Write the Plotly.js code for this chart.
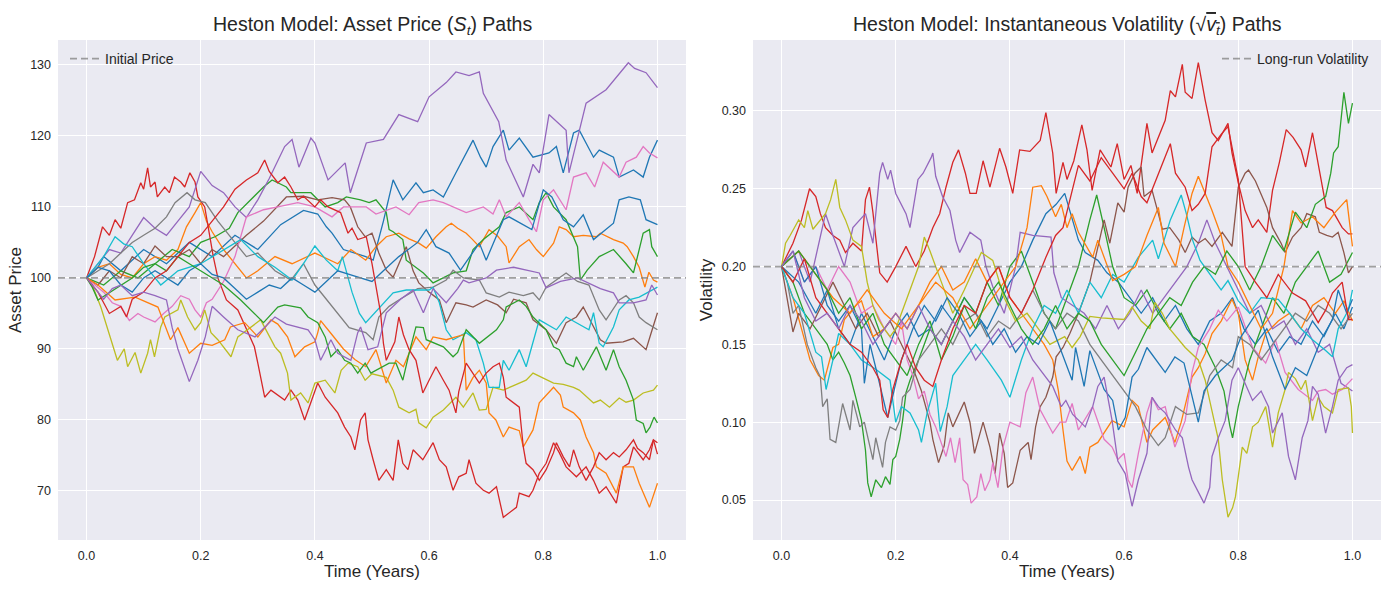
<!DOCTYPE html>
<html>
<head>
<meta charset="utf-8">
<script src="https://cdn.plot.ly/plotly-3.0.1.min.js"></script>
<style>
  html, body { margin: 0; padding: 0; background: #ffffff; }
  #chart { width: 1389px; height: 590px; }
</style>
</head>
<body>
<div id="chart"></div>
<script>
// Heston model Monte Carlo: 15 simulated paths, [time in years, value] pairs.
const INITIAL_PRICE = 100;
const LONG_RUN_VOL = 0.20;
const xTicks = [0, 0.2, 0.4, 0.6, 0.8, 1.0];
const priceTicks = [70, 80, 90, 100, 110, 120, 130];
const volTicks = [0.05, 0.10, 0.15, 0.20, 0.25, 0.30];
const palette = ['#1f77b4','#ff7f0e','#2ca02c','#d62728','#9467bd','#8c564b','#e377c2','#7f7f7f','#bcbd22','#17becf'];

// ---- asset price paths S_t ----
const price0 = [[0,100],[0.02,101.5],[0.03,103],[0.06,101],[0.1,104],[0.14,102],[0.18,105],[0.22,103],[0.26,106],[0.3,104],[0.34,107.5],[0.38,109.5],[0.405,109],[0.42,107.2],[0.43,106.3],[0.45,104],[0.47,103.5],[0.489,103],[0.502,102.5],[0.52,108],[0.537,113.8],[0.545,112.5],[0.554,111],[0.577,113.4],[0.59,112],[0.607,112.4],[0.625,111.4],[0.647,114.8],[0.665,117.6],[0.677,119.4],[0.69,117],[0.7,115.6],[0.712,118.5],[0.73,120.8],[0.74,118],[0.758,119.7],[0.782,117],[0.81,117.6],[0.823,118.5],[0.835,114.8],[0.853,120.4],[0.863,120.8],[0.888,117],[0.898,118],[0.923,117],[0.933,114.2],[0.958,115.2],[0.975,114.2],[0.986,117],[1.0,119.4]];
const price1 = [[0,100],[0.02,101.5],[0.04,102],[0.06,100.5],[0.08,100],[0.1,102],[0.12,103],[0.14,102.5],[0.16,104],[0.175,107.2],[0.19,109.2],[0.2,110.6],[0.21,108],[0.22,106.5],[0.24,104],[0.26,102],[0.28,100],[0.3,101],[0.33,103],[0.36,102],[0.4,103.5],[0.44,102],[0.463,104],[0.489,102.5],[0.507,104.4],[0.525,105.8],[0.547,106.3],[0.565,105.5],[0.582,104.9],[0.595,104.2],[0.612,105.8],[0.63,107.2],[0.639,107.7],[0.65,107],[0.665,106.3],[0.675,105.5],[0.688,104.4],[0.705,106.8],[0.72,105.9],[0.735,104.4],[0.74,102.1],[0.758,104.4],[0.775,105.4],[0.788,104],[0.8,103],[0.818,104.9],[0.828,107.2],[0.84,106.8],[0.853,105.8],[0.87,106],[0.893,105.8],[0.9,106.3],[0.923,105.4],[0.94,104.9],[0.947,104.4],[0.958,103],[0.968,101.5],[0.978,98.7],[0.985,100.8],[0.993,99.7],[1.0,99.4]];
const price2 = [[0,100],[0.03,99],[0.06,101],[0.09,100],[0.12,102],[0.15,104],[0.18,103],[0.2,105],[0.225,105.8],[0.25,107],[0.265,109.2],[0.3,112],[0.31,112.8],[0.325,113.8],[0.35,112.8],[0.358,112],[0.393,112],[0.418,110],[0.44,110.6],[0.455,111.4],[0.48,111],[0.495,110.6],[0.507,111],[0.525,109.2],[0.53,106.8],[0.537,106.5],[0.554,105.4],[0.56,102.5],[0.59,100.7],[0.607,99.3],[0.642,100.7],[0.665,101],[0.677,104],[0.695,105.4],[0.723,107.2],[0.735,109.2],[0.758,110],[0.782,108.2],[0.793,110.6],[0.805,112],[0.818,110],[0.84,108.2],[0.86,104.4],[0.865,99.7],[0.877,101.1],[0.898,103],[0.923,104],[0.945,102],[0.958,100.7],[0.975,106.3],[0.986,106.8],[0.99,104.4],[1.0,103]];
const price3 = [[0,100],[0.014,103],[0.028,107.2],[0.04,106],[0.05,108.2],[0.06,107],[0.072,110.6],[0.084,111],[0.095,113.4],[0.1,112.5],[0.107,115.5],[0.112,112.8],[0.12,113.5],[0.124,111.4],[0.137,112.8],[0.145,112],[0.154,114.2],[0.165,113.5],[0.172,112.8],[0.181,114.8],[0.19,113.5],[0.195,111.4],[0.207,110],[0.215,106],[0.222,103],[0.23,100],[0.245,96.9],[0.265,95.5],[0.28,92.7],[0.294,90.3],[0.3,88],[0.305,86],[0.312,83.2],[0.323,84.2],[0.347,82.8],[0.358,84.2],[0.37,82.8],[0.382,80],[0.393,82.4],[0.405,85.2],[0.418,83.2],[0.44,81],[0.452,79],[0.463,77.6],[0.47,75.8],[0.48,80],[0.488,81],[0.493,77.2],[0.502,74.4],[0.512,71.5],[0.525,73],[0.537,71.5],[0.546,77.2],[0.554,73.9],[0.563,73],[0.572,75.8],[0.589,74.4],[0.607,76.8],[0.618,74.4],[0.63,73.4],[0.642,70.1],[0.652,72],[0.665,72.5],[0.67,74.4],[0.682,71.1],[0.695,70.1],[0.705,69.7],[0.718,70.6],[0.73,66.3],[0.74,66.9],[0.753,67.7],[0.758,69.7],[0.775,69.2],[0.782,70.1],[0.793,72.5],[0.805,73.9],[0.818,76.8],[0.828,75.4],[0.84,73.4],[0.858,72],[0.875,73.4],[0.888,71.5],[0.898,69.7],[0.91,70.6],[0.928,68.3],[0.94,73.4],[0.95,73.9],[0.958,76.2],[0.975,74.4],[0.986,75.8],[0.993,77.2],[1.0,75.2]];
const price4 = [[0,100],[0.02,102],[0.04,104],[0.06,103.5],[0.08,106],[0.1,108.5],[0.12,107],[0.14,106],[0.16,108],[0.18,110],[0.2,115],[0.22,113],[0.24,112],[0.26,110],[0.28,108.5],[0.3,111],[0.32,114],[0.347,118.5],[0.36,119.5],[0.372,115.6],[0.393,119.7],[0.4,119],[0.423,113.8],[0.453,116.2],[0.462,112],[0.49,119],[0.52,119.5],[0.547,123],[0.58,122],[0.6,125.5],[0.63,127.5],[0.647,129],[0.67,128.5],[0.688,129],[0.695,126],[0.722,122],[0.735,116.6],[0.765,111.4],[0.782,116],[0.793,114.8],[0.81,123],[0.84,120.8],[0.845,114.8],[0.875,124.6],[0.91,126.5],[0.94,129.3],[0.949,130.3],[0.96,129.5],[0.98,128.9],[1.0,126.8]];
const price5 = [[0,100],[0.02,99],[0.04,101],[0.06,100],[0.08,103],[0.1,102],[0.12,104.5],[0.14,103],[0.16,103],[0.18,104],[0.2,102],[0.22,104],[0.24,103],[0.26,104.5],[0.28,106],[0.31,108],[0.35,111.4],[0.38,111.5],[0.405,111],[0.43,111.3],[0.452,111],[0.462,110],[0.475,107.2],[0.488,105.8],[0.5,106.3],[0.512,103.5],[0.525,101.1],[0.537,100.1],[0.56,104.4],[0.572,101],[0.582,99.3],[0.6,98],[0.618,96.9],[0.63,93.7],[0.647,96.5],[0.665,96.2],[0.677,95.9],[0.7,96.9],[0.72,96.2],[0.735,95.1],[0.748,97],[0.77,96.5],[0.782,94.1],[0.805,92.7],[0.823,90.8],[0.84,93.7],[0.858,94.5],[0.87,95.9],[0.9,91.3],[0.91,90.8],[0.94,91],[0.958,91.5],[0.98,89.9],[0.988,92],[1.0,95.1]];
const price6 = [[0,100],[0.015,99],[0.03,98],[0.045,96.5],[0.06,96],[0.075,94],[0.09,95],[0.1,94.5],[0.12,93.8],[0.135,95],[0.15,96],[0.165,97.5],[0.18,97],[0.19,95.5],[0.2,94.5],[0.21,96.5],[0.22,97],[0.24,99.5],[0.26,103],[0.28,108.6],[0.31,109.6],[0.335,110],[0.37,110.6],[0.4,110],[0.43,108.6],[0.45,110],[0.49,110],[0.507,109],[0.542,110],[0.565,108.9],[0.582,110.6],[0.607,111],[0.625,110.6],[0.665,109.2],[0.695,110],[0.712,109],[0.723,111],[0.735,108.6],[0.758,110.6],[0.775,108.2],[0.788,106.5],[0.8,111],[0.818,112.4],[0.84,109.6],[0.853,114.2],[0.875,114.8],[0.89,112.8],[0.905,116.3],[0.933,114.2],[0.945,116.3],[0.963,117],[0.975,118.5],[0.986,117.6],[1.0,116.9]];
const price7 = [[0,100],[0.02,101],[0.04,102],[0.06,103.5],[0.08,105],[0.1,106],[0.12,107],[0.14,108.6],[0.155,110.6],[0.176,112],[0.19,111],[0.208,110.6],[0.23,108],[0.25,106],[0.28,103],[0.3,103.5],[0.33,101],[0.358,99.7],[0.38,102],[0.4,99],[0.42,97],[0.44,95],[0.46,93],[0.489,92.3],[0.502,91.3],[0.512,94.5],[0.53,96],[0.547,96.9],[0.58,98.5],[0.607,98.7],[0.63,99.7],[0.642,101.1],[0.66,100],[0.688,99.7],[0.7,97.9],[0.723,97.3],[0.74,98],[0.765,97.5],[0.782,97.9],[0.793,96.9],[0.805,98.7],[0.84,100.7],[0.86,99.5],[0.88,99],[0.898,95.5],[0.91,94.1],[0.933,96.9],[0.945,97.5],[0.958,96.5],[0.968,94.5],[0.98,93.7],[1.0,92.7]];
const price8 = [[0,100],[0.01,99],[0.025,95.9],[0.037,92.7],[0.05,89.4],[0.054,88.4],[0.066,90],[0.072,87.5],[0.085,89.5],[0.095,86.6],[0.107,89.4],[0.112,91.3],[0.119,88.9],[0.13,93.1],[0.137,94.5],[0.16,95.5],[0.165,96.9],[0.177,94.5],[0.19,92.7],[0.2,93.7],[0.207,95.5],[0.218,92.3],[0.23,91.3],[0.253,88.9],[0.265,91.7],[0.288,93.1],[0.305,94.1],[0.33,90.3],[0.34,89.4],[0.352,86.6],[0.358,82.8],[0.375,83.8],[0.388,82.4],[0.4,85.2],[0.418,85.6],[0.435,83.8],[0.446,87],[0.458,88],[0.475,87.5],[0.488,85.6],[0.5,86.5],[0.525,86],[0.537,84.2],[0.547,81.8],[0.565,81],[0.577,81.5],[0.582,79.6],[0.595,78.9],[0.607,80.4],[0.625,81.4],[0.647,83.2],[0.66,81.8],[0.677,83.8],[0.688,81.4],[0.7,81.5],[0.712,84.6],[0.73,84.2],[0.747,84.8],[0.77,85.6],[0.782,86.6],[0.818,85.2],[0.835,85],[0.853,84.6],[0.863,84.2],[0.888,82.4],[0.9,82.8],[0.916,81.8],[0.933,83.1],[0.945,82.5],[0.958,82.8],[0.975,83.8],[0.993,84.2],[1.0,84.9]];
const price9 = [[0,100],[0.015,101.5],[0.03,103],[0.05,105.8],[0.065,104.8],[0.08,104.4],[0.1,102],[0.115,100.5],[0.13,99],[0.145,100],[0.16,101],[0.2,102],[0.23,103.5],[0.27,105.4],[0.3,103],[0.33,101.5],[0.36,99.7],[0.38,102],[0.4,104.5],[0.42,102.5],[0.44,101],[0.448,103],[0.465,98],[0.478,95],[0.489,93.7],[0.51,95.5],[0.537,97.9],[0.56,98.3],[0.6,98.3],[0.607,98.7],[0.618,96.5],[0.63,92.7],[0.642,91.3],[0.665,92.3],[0.682,91.3],[0.695,88],[0.705,84.6],[0.723,84.6],[0.73,88.4],[0.74,87],[0.758,89.9],[0.77,87.5],[0.788,92.7],[0.793,94.1],[0.823,92.7],[0.84,94.5],[0.88,92.7],[0.888,95.1],[0.898,90.8],[0.905,90.3],[0.923,93.1],[0.933,95.5],[0.95,96.9],[0.968,97.3],[1.0,98.7]];
const price10 = [[0,100],[0.02,101.5],[0.04,101],[0.06,99],[0.08,98],[0.1,100],[0.12,101],[0.14,100],[0.16,99],[0.18,101],[0.2,102],[0.22,100.5],[0.24,100],[0.26,98.5],[0.28,97],[0.3,98],[0.32,99],[0.34,98.5],[0.36,100],[0.38,99],[0.4,98],[0.42,99.5],[0.44,101],[0.46,100.5],[0.48,100],[0.5,99.5],[0.52,101],[0.547,103],[0.58,105],[0.595,106.8],[0.612,104.4],[0.635,103.5],[0.655,101.1],[0.688,104.9],[0.7,102.5],[0.73,108.2],[0.74,108.6],[0.78,106.8],[0.8,112.4],[0.815,111.4],[0.835,108.2],[0.853,107.2],[0.87,108.9],[0.888,105.4],[0.923,107.7],[0.933,111],[0.95,111.4],[0.97,111],[0.98,108.2],[1.0,107.5]];
const price11 = [[0,100],[0.02,99],[0.05,96.9],[0.085,97.3],[0.125,95.9],[0.147,91.3],[0.16,93],[0.18,89.4],[0.2,90.8],[0.22,90.5],[0.242,91.3],[0.252,93.1],[0.277,93.7],[0.3,91.7],[0.323,94.1],[0.335,93.5],[0.352,91.7],[0.365,88.9],[0.382,90.3],[0.4,91],[0.405,92.3],[0.41,94],[0.43,92],[0.45,90],[0.47,88.5],[0.489,87.5],[0.507,89.9],[0.525,85.2],[0.542,88.4],[0.555,87.5],[0.577,91.7],[0.595,89.9],[0.607,91.7],[0.63,91.3],[0.647,91.7],[0.66,92],[0.665,84.2],[0.677,86],[0.688,87],[0.7,85.2],[0.705,81],[0.717,80],[0.73,77.6],[0.74,79],[0.758,78.5],[0.765,76.2],[0.782,78.6],[0.793,82.4],[0.818,84.6],[0.83,83.5],[0.835,81.8],[0.853,81],[0.865,80],[0.875,77.6],[0.888,75.4],[0.893,73.4],[0.91,72.5],[0.928,69.7],[0.94,73.4],[0.958,73.4],[0.968,71.1],[0.986,67.7],[1.0,71.1]];
const price12 = [[0,100],[0.01,98.7],[0.02,96.9],[0.05,98.5],[0.08,100],[0.1,101.5],[0.12,102],[0.14,101],[0.16,103],[0.18,102],[0.2,101],[0.22,100],[0.24,99],[0.27,96.9],[0.3,94.5],[0.31,93.7],[0.335,95.9],[0.347,96.2],[0.375,95.8],[0.388,94.5],[0.405,93.7],[0.418,91.7],[0.428,88.9],[0.44,89.9],[0.452,88.4],[0.463,88],[0.475,86.6],[0.488,88],[0.498,86.6],[0.507,87],[0.53,88],[0.542,88],[0.554,85.6],[0.565,89.4],[0.577,93.1],[0.59,93],[0.595,91.3],[0.625,90.3],[0.642,88.9],[0.65,89.5],[0.665,92.7],[0.688,90.8],[0.718,92.7],[0.73,94.1],[0.735,95.9],[0.758,96.9],[0.77,96],[0.782,94.5],[0.793,93.7],[0.805,92.7],[0.818,90.3],[0.828,89.9],[0.84,88],[0.853,87.5],[0.858,88.9],[0.87,87],[0.893,90.3],[0.91,87],[0.923,89.9],[0.933,87.5],[0.945,85.6],[0.958,82.8],[0.963,80],[0.975,79.5],[0.98,78.2],[0.987,79],[0.994,80.4],[1.0,79.6]];
const price13 = [[0,100],[0.02,98],[0.04,95],[0.06,96],[0.07,94.5],[0.08,97],[0.1,98],[0.12,100],[0.14,101],[0.16,103],[0.18,105],[0.2,106],[0.22,108],[0.24,110],[0.26,112.5],[0.28,113.8],[0.3,114.8],[0.312,116.6],[0.32,115],[0.335,113.4],[0.347,114.2],[0.358,112.8],[0.37,111],[0.38,111.5],[0.4,110],[0.41,111],[0.423,110],[0.445,109.2],[0.458,106.3],[0.465,107],[0.475,105.4],[0.49,105.8],[0.5,102],[0.507,98.6],[0.515,95.1],[0.52,90.8],[0.525,88.4],[0.54,91],[0.547,94.5],[0.555,92],[0.565,89.9],[0.577,88.4],[0.589,83.8],[0.6,85.6],[0.612,87.5],[0.625,85.6],[0.635,84.2],[0.647,81],[0.652,84],[0.665,88],[0.677,86.6],[0.688,85.2],[0.7,86.6],[0.712,87.5],[0.723,88],[0.73,86],[0.735,83.2],[0.748,82.4],[0.758,81.8],[0.765,76.2],[0.77,73.9],[0.782,73],[0.793,71.5],[0.805,73],[0.818,75.4],[0.823,76.8],[0.835,74.8],[0.846,73.4],[0.853,75.8],[0.863,73.4],[0.875,71.5],[0.888,73.4],[0.898,75.4],[0.91,74.4],[0.923,75.4],[0.933,74.8],[0.945,75.8],[0.958,77.2],[0.965,76],[0.975,75.4],[0.986,74.4],[0.993,77.2],[1.0,76.8]];
const price14 = [[0,100],[0.015,98.5],[0.03,97],[0.045,98.5],[0.06,99],[0.08,97.5],[0.1,98],[0.12,97.5],[0.14,96.9],[0.15,93],[0.16,90],[0.18,85.4],[0.195,88.4],[0.208,91.7],[0.22,96],[0.24,94.5],[0.265,92.7],[0.295,91.7],[0.312,93.1],[0.33,94.5],[0.35,93.5],[0.37,93.1],[0.388,92.7],[0.4,91.3],[0.41,88.4],[0.428,91.3],[0.44,89.4],[0.463,88.4],[0.475,92.3],[0.48,93.1],[0.493,89.9],[0.51,90.3],[0.525,95.1],[0.55,97],[0.572,98.3],[0.59,95.1],[0.6,97],[0.607,98.5],[0.63,96.5],[0.65,98.5],[0.66,99.7],[0.67,99.3],[0.7,100],[0.718,101.1],[0.748,101.5],[0.793,100.7],[0.805,98.6],[0.83,99.5],[0.86,100],[0.9,98.5],[0.923,97.9],[0.933,96.5],[0.958,96.5],[0.98,96.9],[0.99,99],[1.0,97.6]];

// ---- instantaneous volatility paths sqrt(v_t) ----
const vol0 = [[0,0.2],[0.03,0.19],[0.06,0.17],[0.08,0.185],[0.1,0.16],[0.12,0.15],[0.14,0.17],[0.16,0.155],[0.18,0.14],[0.2,0.16],[0.22,0.17],[0.24,0.155],[0.26,0.16],[0.28,0.175],[0.3,0.165],[0.32,0.18],[0.34,0.17],[0.36,0.16],[0.38,0.175],[0.4,0.19],[0.42,0.2],[0.44,0.217],[0.463,0.234],[0.475,0.238],[0.481,0.24],[0.496,0.247],[0.509,0.23],[0.52,0.217],[0.532,0.209],[0.554,0.204],[0.57,0.196],[0.59,0.19],[0.61,0.18],[0.63,0.17],[0.65,0.18],[0.67,0.165],[0.69,0.175],[0.71,0.16],[0.73,0.15],[0.75,0.165],[0.77,0.17],[0.79,0.18],[0.81,0.16],[0.83,0.15],[0.85,0.16],[0.87,0.145],[0.89,0.155],[0.91,0.15],[0.93,0.165],[0.95,0.155],[0.97,0.17],[0.985,0.16],[1.0,0.174]];
const vol1 = [[0,0.2],[0.02,0.18],[0.035,0.16],[0.05,0.14],[0.065,0.13],[0.075,0.127],[0.09,0.148],[0.1,0.15],[0.11,0.166],[0.13,0.175],[0.14,0.178],[0.16,0.155],[0.18,0.16],[0.2,0.17],[0.22,0.16],[0.24,0.175],[0.26,0.19],[0.28,0.2],[0.3,0.185],[0.32,0.19],[0.34,0.205],[0.36,0.19],[0.38,0.2],[0.4,0.18],[0.42,0.17],[0.44,0.16],[0.46,0.15],[0.475,0.14],[0.485,0.12],[0.493,0.095],[0.5,0.075],[0.509,0.069],[0.523,0.078],[0.532,0.067],[0.54,0.084],[0.554,0.087],[0.579,0.101],[0.6,0.097],[0.614,0.114],[0.625,0.11],[0.64,0.087],[0.65,0.095],[0.672,0.103],[0.689,0.087],[0.7,0.1],[0.719,0.129],[0.73,0.135],[0.742,0.144],[0.754,0.157],[0.77,0.165],[0.789,0.179],[0.8,0.17],[0.812,0.14],[0.825,0.127],[0.835,0.142],[0.848,0.157],[0.87,0.165],[0.89,0.17],[0.91,0.16],[0.93,0.175],[0.95,0.18],[0.97,0.17],[0.985,0.178],[1.0,0.165]];
const vol2 = [[0,0.2],[0.02,0.19],[0.04,0.17],[0.06,0.16],[0.08,0.15],[0.09,0.14],[0.1,0.145],[0.11,0.138],[0.12,0.13],[0.13,0.116],[0.14,0.101],[0.147,0.082],[0.151,0.061],[0.157,0.052],[0.165,0.063],[0.175,0.058],[0.182,0.065],[0.19,0.06],[0.195,0.076],[0.2,0.078],[0.207,0.089],[0.212,0.101],[0.218,0.119],[0.225,0.127],[0.24,0.14],[0.26,0.16],[0.28,0.15],[0.3,0.165],[0.32,0.18],[0.34,0.17],[0.36,0.19],[0.38,0.175],[0.4,0.2],[0.42,0.21],[0.44,0.19],[0.46,0.17],[0.48,0.16],[0.5,0.18],[0.52,0.2],[0.54,0.23],[0.552,0.246],[0.565,0.225],[0.58,0.2],[0.6,0.18],[0.62,0.175],[0.64,0.185],[0.66,0.17],[0.68,0.16],[0.7,0.17],[0.72,0.155],[0.74,0.15],[0.76,0.135],[0.775,0.12],[0.785,0.098],[0.79,0.09],[0.8,0.11],[0.82,0.14],[0.84,0.16],[0.86,0.18],[0.88,0.17],[0.9,0.19],[0.92,0.2],[0.94,0.21],[0.96,0.19],[0.98,0.195],[1.0,0.209]];
const vol3 = [[0,0.2],[0.02,0.215],[0.035,0.23],[0.049,0.25],[0.06,0.245],[0.068,0.234],[0.077,0.225],[0.09,0.22],[0.102,0.217],[0.112,0.209],[0.125,0.215],[0.14,0.21],[0.147,0.243],[0.154,0.251],[0.16,0.235],[0.165,0.217],[0.172,0.196],[0.185,0.19],[0.2,0.2],[0.218,0.213],[0.235,0.2],[0.25,0.21],[0.265,0.225],[0.277,0.234],[0.288,0.251],[0.3,0.267],[0.31,0.275],[0.322,0.26],[0.33,0.247],[0.341,0.247],[0.353,0.268],[0.365,0.251],[0.382,0.276],[0.393,0.264],[0.405,0.247],[0.417,0.275],[0.435,0.274],[0.453,0.281],[0.463,0.299],[0.475,0.273],[0.481,0.247],[0.493,0.267],[0.5,0.256],[0.512,0.268],[0.526,0.291],[0.535,0.275],[0.544,0.249],[0.558,0.275],[0.577,0.264],[0.588,0.279],[0.6,0.256],[0.612,0.265],[0.623,0.247],[0.64,0.292],[0.649,0.273],[0.672,0.294],[0.681,0.313],[0.69,0.309],[0.702,0.33],[0.707,0.312],[0.719,0.308],[0.73,0.331],[0.742,0.307],[0.754,0.286],[0.765,0.281],[0.782,0.292],[0.789,0.273],[0.8,0.254],[0.812,0.236],[0.825,0.225],[0.835,0.23],[0.85,0.222],[0.86,0.249],[0.872,0.267],[0.884,0.288],[0.896,0.283],[0.91,0.275],[0.918,0.264],[0.93,0.286],[0.942,0.262],[0.954,0.238],[0.965,0.236],[0.982,0.225],[0.993,0.221],[1.0,0.221]];
const vol4 = [[0,0.2],[0.03,0.21],[0.05,0.19],[0.077,0.234],[0.09,0.22],[0.11,0.2],[0.125,0.225],[0.147,0.234],[0.16,0.215],[0.172,0.26],[0.177,0.267],[0.186,0.256],[0.191,0.262],[0.2,0.247],[0.218,0.234],[0.225,0.225],[0.239,0.256],[0.248,0.26],[0.262,0.27],[0.265,0.273],[0.27,0.258],[0.282,0.245],[0.295,0.236],[0.305,0.217],[0.312,0.209],[0.33,0.222],[0.349,0.217],[0.358,0.2],[0.37,0.187],[0.39,0.17],[0.41,0.2],[0.418,0.222],[0.44,0.22],[0.472,0.219],[0.477,0.196],[0.49,0.18],[0.51,0.175],[0.53,0.17],[0.55,0.16],[0.57,0.175],[0.59,0.16],[0.61,0.17],[0.63,0.185],[0.65,0.17],[0.67,0.18],[0.69,0.19],[0.71,0.2],[0.73,0.215],[0.745,0.23],[0.76,0.215],[0.78,0.2],[0.8,0.185],[0.82,0.17],[0.84,0.175],[0.86,0.16],[0.88,0.165],[0.9,0.15],[0.92,0.16],[0.94,0.145],[0.96,0.15],[0.98,0.125],[1.0,0.12]];
const vol5 = [[0,0.2],[0.01,0.18],[0.02,0.158],[0.03,0.17],[0.05,0.16],[0.07,0.175],[0.09,0.19],[0.11,0.175],[0.13,0.16],[0.15,0.17],[0.17,0.155],[0.19,0.165],[0.21,0.15],[0.23,0.135],[0.245,0.12],[0.26,0.1],[0.265,0.089],[0.275,0.074],[0.285,0.085],[0.292,0.106],[0.3,0.097],[0.32,0.113],[0.33,0.1],[0.338,0.08],[0.353,0.1],[0.365,0.084],[0.374,0.067],[0.382,0.093],[0.39,0.08],[0.396,0.058],[0.405,0.061],[0.418,0.082],[0.432,0.087],[0.437,0.076],[0.445,0.097],[0.453,0.11],[0.463,0.116],[0.475,0.129],[0.481,0.142],[0.493,0.148],[0.505,0.157],[0.52,0.17],[0.54,0.19],[0.554,0.213],[0.565,0.23],[0.575,0.215],[0.589,0.241],[0.6,0.235],[0.607,0.251],[0.619,0.26],[0.63,0.264],[0.635,0.245],[0.649,0.249],[0.66,0.234],[0.667,0.224],[0.68,0.225],[0.696,0.217],[0.707,0.209],[0.719,0.219],[0.73,0.215],[0.742,0.218],[0.754,0.213],[0.772,0.222],[0.789,0.213],[0.8,0.251],[0.812,0.26],[0.818,0.262],[0.83,0.255],[0.85,0.238],[0.86,0.225],[0.875,0.215],[0.882,0.209],[0.895,0.219],[0.91,0.225],[0.92,0.234],[0.935,0.232],[0.942,0.222],[0.955,0.22],[0.965,0.219],[0.975,0.222],[0.985,0.209],[0.993,0.196],[1.0,0.2]];
const vol6 = [[0,0.2],[0.02,0.21],[0.04,0.19],[0.06,0.2],[0.08,0.185],[0.1,0.2],[0.12,0.19],[0.14,0.17],[0.16,0.175],[0.18,0.16],[0.2,0.15],[0.21,0.165],[0.22,0.14],[0.23,0.13],[0.24,0.115],[0.25,0.12],[0.26,0.105],[0.27,0.097],[0.288,0.078],[0.296,0.09],[0.304,0.074],[0.312,0.09],[0.318,0.063],[0.326,0.06],[0.332,0.048],[0.342,0.052],[0.349,0.067],[0.356,0.056],[0.365,0.063],[0.37,0.074],[0.379,0.058],[0.388,0.084],[0.4,0.1],[0.418,0.097],[0.428,0.119],[0.44,0.129],[0.453,0.108],[0.475,0.093],[0.488,0.1],[0.498,0.1],[0.509,0.112],[0.52,0.095],[0.545,0.11],[0.565,0.089],[0.579,0.084],[0.589,0.076],[0.6,0.08],[0.607,0.063],[0.614,0.058],[0.625,0.08],[0.64,0.106],[0.649,0.116],[0.66,0.108],[0.672,0.11],[0.689,0.084],[0.707,0.101],[0.719,0.132],[0.73,0.148],[0.75,0.16],[0.765,0.172],[0.78,0.165],[0.8,0.174],[0.825,0.148],[0.848,0.138],[0.865,0.153],[0.882,0.132],[0.905,0.121],[0.93,0.114],[0.94,0.12],[0.953,0.121],[0.965,0.118],[0.982,0.121],[1.0,0.128]];
const vol7 = [[0,0.2],[0.01,0.19],[0.02,0.17],[0.03,0.175],[0.045,0.15],[0.06,0.135],[0.068,0.129],[0.072,0.11],[0.08,0.115],[0.085,0.089],[0.095,0.087],[0.107,0.112],[0.12,0.095],[0.125,0.114],[0.137,0.097],[0.145,0.1],[0.16,0.076],[0.165,0.09],[0.177,0.071],[0.182,0.087],[0.19,0.097],[0.2,0.095],[0.207,0.101],[0.212,0.116],[0.225,0.121],[0.24,0.14],[0.26,0.15],[0.28,0.16],[0.3,0.15],[0.32,0.165],[0.34,0.17],[0.36,0.155],[0.38,0.165],[0.4,0.16],[0.42,0.17],[0.44,0.185],[0.46,0.17],[0.48,0.16],[0.5,0.17],[0.52,0.165],[0.54,0.15],[0.56,0.14],[0.58,0.13],[0.6,0.12],[0.62,0.11],[0.64,0.095],[0.66,0.085],[0.672,0.09],[0.69,0.11],[0.71,0.105],[0.73,0.106],[0.75,0.13],[0.77,0.14],[0.79,0.135],[0.8,0.155],[0.82,0.15],[0.84,0.14],[0.86,0.15],[0.88,0.16],[0.9,0.17],[0.92,0.165],[0.94,0.175],[0.96,0.17],[0.98,0.16],[1.0,0.17]];
const vol8 = [[0,0.2],[0.007,0.215],[0.015,0.22],[0.03,0.23],[0.04,0.225],[0.046,0.236],[0.055,0.224],[0.077,0.234],[0.086,0.243],[0.095,0.256],[0.102,0.238],[0.112,0.23],[0.125,0.217],[0.14,0.213],[0.15,0.19],[0.16,0.175],[0.17,0.166],[0.18,0.16],[0.19,0.155],[0.2,0.16],[0.22,0.18],[0.24,0.2],[0.25,0.219],[0.26,0.21],[0.28,0.19],[0.3,0.17],[0.32,0.185],[0.35,0.209],[0.37,0.204],[0.39,0.18],[0.41,0.165],[0.43,0.17],[0.45,0.16],[0.47,0.15],[0.496,0.155],[0.509,0.148],[0.523,0.155],[0.54,0.168],[0.56,0.167],[0.6,0.166],[0.614,0.174],[0.63,0.165],[0.645,0.16],[0.654,0.177],[0.667,0.17],[0.68,0.16],[0.707,0.148],[0.73,0.14],[0.742,0.127],[0.754,0.106],[0.765,0.089],[0.772,0.063],[0.777,0.052],[0.782,0.039],[0.79,0.045],[0.795,0.052],[0.8,0.065],[0.807,0.084],[0.815,0.08],[0.825,0.097],[0.835,0.1],[0.848,0.11],[0.855,0.095],[0.86,0.084],[0.87,0.106],[0.882,0.121],[0.888,0.132],[0.9,0.128],[0.91,0.121],[0.918,0.127],[0.93,0.101],[0.94,0.116],[0.95,0.11],[0.965,0.106],[0.975,0.121],[0.993,0.122],[0.998,0.11],[1.0,0.093]];
const vol9 = [[0,0.2],[0.02,0.18],[0.04,0.17],[0.06,0.145],[0.07,0.142],[0.078,0.121],[0.09,0.14],[0.1,0.157],[0.12,0.15],[0.14,0.14],[0.165,0.134],[0.18,0.13],[0.19,0.127],[0.2,0.1],[0.21,0.11],[0.225,0.106],[0.24,0.095],[0.245,0.087],[0.255,0.106],[0.27,0.125],[0.278,0.094],[0.29,0.11],[0.3,0.13],[0.32,0.14],[0.34,0.15],[0.36,0.14],[0.385,0.127],[0.4,0.116],[0.42,0.14],[0.44,0.16],[0.46,0.175],[0.48,0.17],[0.5,0.185],[0.52,0.17],[0.54,0.19],[0.56,0.18],[0.58,0.195],[0.6,0.19],[0.625,0.206],[0.65,0.217],[0.66,0.205],[0.681,0.23],[0.7,0.246],[0.709,0.234],[0.72,0.217],[0.733,0.204],[0.75,0.195],[0.77,0.185],[0.782,0.191],[0.8,0.178],[0.82,0.17],[0.84,0.18],[0.87,0.179],[0.89,0.17],[0.91,0.16],[0.93,0.153],[0.953,0.146],[0.965,0.142],[0.975,0.16],[0.993,0.172],[1.0,0.185]];
const vol10 = [[0,0.2],[0.02,0.21],[0.04,0.19],[0.06,0.2],[0.08,0.175],[0.1,0.165],[0.12,0.175],[0.14,0.16],[0.145,0.125],[0.155,0.15],[0.165,0.135],[0.175,0.12],[0.186,0.103],[0.2,0.125],[0.21,0.14],[0.23,0.16],[0.25,0.175],[0.27,0.165],[0.29,0.18],[0.31,0.17],[0.33,0.155],[0.35,0.165],[0.37,0.15],[0.39,0.16],[0.41,0.145],[0.43,0.155],[0.45,0.15],[0.47,0.165],[0.496,0.14],[0.509,0.127],[0.515,0.148],[0.53,0.123],[0.54,0.146],[0.565,0.121],[0.58,0.114],[0.59,0.095],[0.602,0.103],[0.614,0.129],[0.625,0.134],[0.64,0.148],[0.672,0.132],[0.689,0.142],[0.705,0.138],[0.73,0.1],[0.74,0.12],[0.76,0.13],[0.789,0.14],[0.805,0.155],[0.835,0.172],[0.86,0.142],[0.882,0.121],[0.9,0.135],[0.92,0.13],[0.945,0.153],[0.965,0.166],[0.975,0.185],[0.99,0.17],[1.0,0.179]];
const vol11 = [[0,0.2],[0.03,0.21],[0.06,0.195],[0.09,0.18],[0.12,0.17],[0.15,0.185],[0.18,0.17],[0.21,0.16],[0.24,0.175],[0.27,0.19],[0.3,0.18],[0.33,0.16],[0.36,0.175],[0.39,0.19],[0.41,0.2],[0.43,0.225],[0.44,0.251],[0.455,0.252],[0.465,0.245],[0.48,0.232],[0.49,0.24],[0.5,0.225],[0.509,0.234],[0.52,0.222],[0.545,0.206],[0.554,0.217],[0.58,0.191],[0.6,0.195],[0.62,0.2],[0.64,0.22],[0.66,0.238],[0.67,0.215],[0.69,0.2],[0.705,0.225],[0.719,0.247],[0.73,0.258],[0.742,0.247],[0.754,0.236],[0.77,0.22],[0.782,0.2],[0.8,0.19],[0.82,0.175],[0.84,0.16],[0.86,0.17],[0.88,0.2],[0.895,0.236],[0.91,0.228],[0.93,0.232],[0.95,0.225],[0.97,0.235],[0.99,0.243],[1.0,0.213]];
const vol12 = [[0,0.2],[0.03,0.21],[0.05,0.2],[0.08,0.185],[0.1,0.17],[0.12,0.18],[0.14,0.16],[0.16,0.17],[0.18,0.15],[0.2,0.14],[0.22,0.13],[0.24,0.15],[0.26,0.165],[0.28,0.14],[0.3,0.155],[0.32,0.175],[0.34,0.16],[0.36,0.18],[0.38,0.19],[0.4,0.175],[0.42,0.16],[0.44,0.15],[0.46,0.16],[0.48,0.175],[0.5,0.16],[0.52,0.17],[0.54,0.165],[0.56,0.15],[0.58,0.14],[0.6,0.13],[0.62,0.145],[0.64,0.16],[0.66,0.17],[0.68,0.18],[0.7,0.175],[0.72,0.19],[0.74,0.2],[0.76,0.195],[0.78,0.21],[0.8,0.2],[0.82,0.185],[0.84,0.2],[0.86,0.22],[0.88,0.21],[0.9,0.235],[0.92,0.225],[0.935,0.24],[0.953,0.245],[0.962,0.26],[0.967,0.273],[0.975,0.277],[0.985,0.312],[0.993,0.292],[1.0,0.305]];
const vol13 = [[0,0.2],[0.02,0.19],[0.04,0.205],[0.06,0.18],[0.08,0.17],[0.1,0.16],[0.12,0.15],[0.14,0.145],[0.16,0.135],[0.172,0.127],[0.178,0.108],[0.186,0.103],[0.195,0.121],[0.21,0.14],[0.22,0.15],[0.235,0.135],[0.25,0.127],[0.265,0.123],[0.28,0.14],[0.3,0.16],[0.32,0.175],[0.34,0.17],[0.36,0.19],[0.38,0.2],[0.4,0.18],[0.42,0.17],[0.44,0.185],[0.463,0.206],[0.48,0.22],[0.493,0.225],[0.51,0.249],[0.52,0.265],[0.54,0.255],[0.56,0.27],[0.58,0.26],[0.6,0.25],[0.614,0.26],[0.63,0.245],[0.64,0.241],[0.66,0.26],[0.681,0.279],[0.69,0.26],[0.707,0.251],[0.719,0.236],[0.73,0.24],[0.742,0.247],[0.754,0.277],[0.77,0.285],[0.782,0.29],[0.79,0.275],[0.8,0.256],[0.812,0.2],[0.83,0.19],[0.85,0.18],[0.87,0.195],[0.895,0.183],[0.918,0.178],[0.94,0.164],[0.953,0.172],[0.965,0.183],[0.982,0.19],[0.993,0.166],[1.0,0.166]];
const vol14 = [[0,0.2],[0.02,0.21],[0.04,0.18],[0.06,0.165],[0.08,0.17],[0.1,0.16],[0.12,0.175],[0.14,0.165],[0.16,0.15],[0.18,0.16],[0.2,0.17],[0.22,0.16],[0.24,0.175],[0.26,0.16],[0.28,0.15],[0.3,0.165],[0.32,0.155],[0.34,0.14],[0.36,0.15],[0.38,0.16],[0.4,0.148],[0.42,0.155],[0.44,0.14],[0.46,0.13],[0.475,0.123],[0.49,0.11],[0.498,0.114],[0.51,0.105],[0.532,0.097],[0.545,0.11],[0.554,0.123],[0.565,0.129],[0.579,0.101],[0.589,0.075],[0.602,0.067],[0.614,0.046],[0.625,0.063],[0.64,0.08],[0.649,0.116],[0.66,0.11],[0.672,0.106],[0.69,0.095],[0.702,0.09],[0.713,0.071],[0.719,0.063],[0.74,0.048],[0.75,0.058],[0.754,0.078],[0.765,0.09],[0.777,0.101],[0.789,0.127],[0.8,0.135],[0.812,0.125],[0.825,0.114],[0.84,0.12],[0.853,0.11],[0.86,0.093],[0.877,0.106],[0.888,0.078],[0.9,0.063],[0.912,0.09],[0.922,0.101],[0.93,0.123],[0.94,0.118],[0.953,0.093],[0.965,0.11],[0.975,0.127],[0.99,0.135],[1.0,0.137]];

const pricePaths = [price0, price1, price2, price3, price4, price5, price6, price7, price8, price9, price10, price11, price12, price13, price14];
const volPaths = [vol0, vol1, vol2, vol3, vol4, vol5, vol6, vol7, vol8, vol9, vol10, vol11, vol12, vol13, vol14];

const FONT = '"Liberation Sans", Arial, "DejaVu Sans", sans-serif';
const INK = '#262626';
const traces = [];

function addPaths(paths, xa, ya) {
  paths.forEach((pts, i) => {
    traces.push({
      type: 'scatter', mode: 'lines',
      x: pts.map(p => p[0]), y: pts.map(p => p[1]),
      xaxis: xa, yaxis: ya,
      line: { color: palette[i % palette.length], width: 1.3 },
      showlegend: false, hoverinfo: 'skip'
    });
  });
}
addPaths(pricePaths, 'x', 'y');
addPaths(volPaths, 'x2', 'y2');

// reference levels drawn across the whole x range
const X_RANGE = [-0.05, 1.05];
const refLine = { color: 'rgba(128,128,128,0.75)', width: 1.8, dash: '7px,4px' };
traces.push({ type: 'scatter', mode: 'lines', x: X_RANGE, y: [INITIAL_PRICE, INITIAL_PRICE],
  xaxis: 'x', yaxis: 'y', line: refLine, name: 'Initial Price', legend: 'legend', hoverinfo: 'skip' });
traces.push({ type: 'scatter', mode: 'lines', x: X_RANGE, y: [LONG_RUN_VOL, LONG_RUN_VOL],
  xaxis: 'x2', yaxis: 'y2', line: refLine, name: 'Long-run Volatility', legend: 'legend2', hoverinfo: 'skip' });

const W = 1389, H = 590;
const leftDom = [58 / W, 686 / W];
const rightDom = [753 / W, 1381 / W];
const yDom = [1 - 540 / H, 1 - 40 / H];

function xAxis(domain, anchor) {
  return {
    domain: domain, anchor: anchor, range: X_RANGE,
    tickvals: xTicks, tickformat: '.1f', ticks: '', ticklabelstandoff: 6,
    showgrid: true, gridcolor: '#ffffff', gridwidth: 1, zeroline: false, showline: false,
    tickfont: { family: FONT, size: 12.5, color: INK },
    title: { text: 'Time (Years)', font: { family: FONT, size: 17, color: INK }, standoff: 3 },
    automargin: false
  };
}
function yAxis(anchor, range, vals, fmt, label) {
  return {
    domain: yDom, anchor: anchor, range: range,
    tickvals: vals, tickformat: fmt, ticks: '', ticklabelstandoff: 6,
    showgrid: true, gridcolor: '#ffffff', gridwidth: 1, zeroline: false, showline: false,
    tickfont: { family: FONT, size: 12.5, color: INK },
    title: { text: label, font: { family: FONT, size: 17, color: INK }, standoff: 4 },
    automargin: false
  };
}

const legendStyle = {
  bgcolor: 'rgba(0,0,0,0)', borderwidth: 0,
  font: { family: FONT, size: 14, color: INK },
  yanchor: 'top', itemwidth: 30
};

const layout = {
  width: W, height: H,
  margin: { l: 0, r: 0, t: 0, b: 0 },
  paper_bgcolor: '#ffffff', plot_bgcolor: '#eaeaf2',
  font: { family: FONT, color: INK },
  xaxis: xAxis(leftDom, 'y'),
  yaxis: yAxis('x', [63.1, 133.5], priceTicks, 'd', 'Asset Price'),
  xaxis2: xAxis(rightDom, 'y2'),
  yaxis2: yAxis('x2', [0.0243, 0.3456], volTicks, '.2f', 'Volatility'),
  legend: Object.assign({}, legendStyle, { x: 65 / W, xanchor: 'left', y: 1 - 43 / H }),
  legend2: Object.assign({}, legendStyle, { x: 1374 / W, xanchor: 'right', y: 1 - 43 / H }),
  annotations: [
    { text: 'Heston Model: Asset Price (<i>S<sub>t</sub></i>) Paths',
      xref: 'paper', yref: 'paper', x: (leftDom[0] + leftDom[1]) / 2, y: 1 - 26 / H,
      xanchor: 'center', yanchor: 'middle', showarrow: false,
      font: { family: FONT, size: 19.5, color: INK } },
    { text: 'Heston Model: Instantaneous Volatility (√<span style="text-decoration:overline"><i>v</i></span><sub><span style="text-decoration:overline"><i>t</i></span></sub>) Paths',
      xref: 'paper', yref: 'paper', x: (rightDom[0] + rightDom[1]) / 2, y: 1 - 26 / H,
      xanchor: 'center', yanchor: 'middle', showarrow: false,
      font: { family: FONT, size: 19.5, color: INK } }
  ]
};

Plotly.newPlot('chart', traces, layout, { displayModeBar: false, staticPlot: true });
</script>
</body>
</html>
